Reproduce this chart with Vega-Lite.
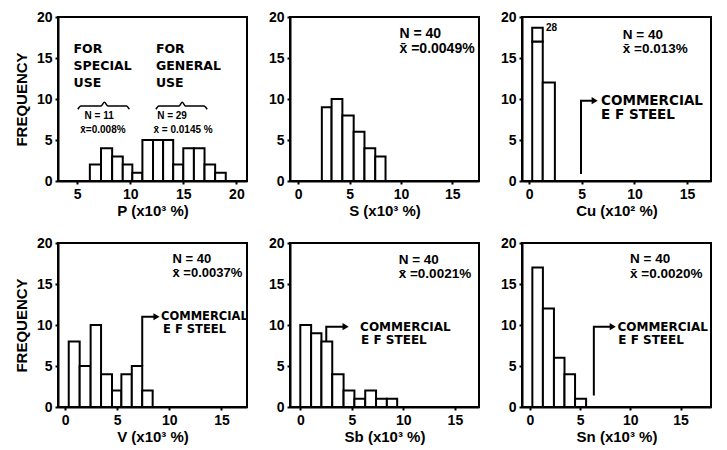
{
  "$schema": "https://vega.github.io/schema/vega-lite/v6.json",
  "background": "white",
  "padding": {"left": 13, "top": 9, "right": 0, "bottom": 0},
  "columns": 3,
  "spacing": {"row": 62, "column": 43},
  "bounds": "flush",
  "config": {
    "view": {"stroke": "black", "strokeWidth": 2},
    "axis": {
      "grid": false, "domainColor": "black", "domainWidth": 2,
      "tickColor": "black", "tickWidth": 2, "tickSize": 3,
      "labelFont": "Liberation Sans", "labelFontSize": 14, "labelFontWeight": "bold", "labelColor": "black", "labelPadding": 3, "labelFlush": false,
      "titleFont": "Liberation Sans", "titleFontSize": 15, "titleFontWeight": "bold", "titleColor": "black", "titlePadding": 2
    },
    "axisY": {"titlePadding": 7},
    "text": {"font": "Liberation Sans", "fontWeight": "bold", "color": "black", "align": "left", "baseline": "middle"}
  },
  "datasets": {
    "P_bars": [
      {"x": 6.2, "x1": 7.25, "y": 2}, {"x": 7.25, "x1": 8.3, "y": 4}, {"x": 8.3, "x1": 9.3, "y": 3},
      {"x": 9.3, "x1": 10.2, "y": 2}, {"x": 10.2, "x1": 11.15, "y": 1}, {"x": 11.15, "x1": 12.15, "y": 5},
      {"x": 12.15, "x1": 13.1, "y": 5}, {"x": 13.1, "x1": 14.05, "y": 5}, {"x": 14.05, "x1": 15, "y": 2},
      {"x": 15, "x1": 16, "y": 4}, {"x": 16, "x1": 17, "y": 4}, {"x": 17, "x1": 18, "y": 2}, {"x": 18, "x1": 19, "y": 1}
    ],
    "P_text": [
      {"x": 4.66, "y": 16.05, "t": "FOR"}, {"x": 4.66, "y": 14.05, "t": "SPECIAL"}, {"x": 4.66, "y": 11.9, "t": "USE"},
      {"x": 12.42, "y": 16.05, "t": "FOR"}, {"x": 12.42, "y": 14.05, "t": "GENERAL"}, {"x": 12.42, "y": 11.9, "t": "USE"}
    ],
    "P_small": [
      {"x": 5.7, "y": 7.9, "t": "N = 11"}, {"x": 5.3, "y": 6.17, "t": "x̄=0.008%"},
      {"x": 12.54, "y": 7.9, "t": "N = 29"}, {"x": 12.19, "y": 6.17, "t": "x̄ = 0.0145 %"}
    ],
    "P_brace": [
      {"id": "a", "o": 0, "x": 5.07, "y": 8.75}, {"id": "a", "o": 1, "x": 5.35, "y": 9.15}, {"id": "a", "o": 2, "x": 7.25, "y": 9.15},
      {"id": "a", "o": 3, "x": 7.57, "y": 9.6}, {"id": "a", "o": 4, "x": 7.9, "y": 9.15}, {"id": "a", "o": 5, "x": 9.65, "y": 9.15},
      {"id": "a", "o": 6, "x": 9.91, "y": 8.75},
      {"id": "b", "o": 0, "x": 12.42, "y": 8.75}, {"id": "b", "o": 1, "x": 12.7, "y": 9.15}, {"id": "b", "o": 2, "x": 14.6, "y": 9.15},
      {"id": "b", "o": 3, "x": 14.9, "y": 9.6}, {"id": "b", "o": 4, "x": 15.2, "y": 9.15}, {"id": "b", "o": 5, "x": 16.95, "y": 9.15},
      {"id": "b", "o": 6, "x": 17.25, "y": 8.75}
    ],
    "S_bars": [
      {"x": 2.3, "x1": 3.25, "y": 9}, {"x": 3.25, "x1": 4.3, "y": 10}, {"x": 4.3, "x1": 5.4, "y": 8},
      {"x": 5.4, "x1": 6.45, "y": 6}, {"x": 6.45, "x1": 7.5, "y": 4}, {"x": 7.5, "x1": 8.5, "y": 3}
    ],
    "S_text": [
      {"x": 9.86, "y": 17.95, "t": "N = 40"}, {"x": 9.86, "y": 16.1, "t": "x̄ =0.0049%"}
    ],
    "Cu_bars": [
      {"x": 0.3, "x1": 1.3, "y": 17}, {"x": 1.3, "x1": 2.45, "y": 12}
    ],
    "Cu_box": [
      {"x": 0.3, "x1": 1.3, "y": 17, "y1": 18.7}
    ],
    "Cu_28": [
      {"x": 1.6, "y": 18.6, "t": "28"}
    ],
    "Cu_arrow": [
      {"o": 0, "x": 4.93, "y": 0.85}, {"o": 1, "x": 4.93, "y": 9.8}, {"o": 2, "x": 6.23, "y": 9.8}
    ],
    "Cu_head": [
      {"x": 6.23, "y": 9.8}
    ],
    "Cu_note": [
      {"x": 6.84, "y": 9.8, "t": "COMMERCIAL"}, {"x": 6.84, "y": 8.05, "t": "E F STEEL"}
    ],
    "Cu_text": [
      {"x": 8.9, "y": 17.85, "t": "N = 40"}, {"x": 8.9, "y": 16.15, "t": "x̄ =0.013%"}
    ],
    "V_bars": [
      {"x": 0.35, "x1": 1.4, "y": 8}, {"x": 1.4, "x1": 2.45, "y": 5}, {"x": 2.45, "x1": 3.45, "y": 10},
      {"x": 3.45, "x1": 4.5, "y": 4}, {"x": 4.5, "x1": 5.4, "y": 2}, {"x": 5.4, "x1": 6.4, "y": 4},
      {"x": 6.4, "x1": 7.4, "y": 5}, {"x": 7.4, "x1": 8.4, "y": 2}
    ],
    "V_arrow": [
      {"o": 0, "x": 7.4, "y": 5}, {"o": 1, "x": 7.4, "y": 11}, {"o": 2, "x": 8.77, "y": 11}
    ],
    "V_head": [
      {"x": 8.77, "y": 11}
    ],
    "V_note": [
      {"x": 9.2, "y": 11, "t": "COMMERCIAL"}, {"x": 9.4, "y": 9.35, "t": "E F STEEL"}
    ],
    "V_text": [
      {"x": 10.3, "y": 18.0, "t": "N = 40"}, {"x": 10.3, "y": 16.3, "t": "x̄ =0.0037%"}
    ],
    "Sb_bars": [
      {"x": 0, "x1": 1.05, "y": 10}, {"x": 1.05, "x1": 2.05, "y": 9}, {"x": 2.05, "x1": 3.1, "y": 8},
      {"x": 3.1, "x1": 4.2, "y": 4}, {"x": 4.2, "x1": 5.25, "y": 2}, {"x": 5.25, "x1": 6.3, "y": 1},
      {"x": 6.3, "x1": 7.35, "y": 2}, {"x": 7.35, "x1": 8.4, "y": 1}, {"x": 8.4, "x1": 9.4, "y": 1}
    ],
    "Sb_arrow": [
      {"o": 0, "x": 2.52, "y": 8}, {"o": 1, "x": 2.52, "y": 9.8}, {"o": 2, "x": 4.4, "y": 9.8}
    ],
    "Sb_head": [
      {"x": 4.4, "y": 9.8}
    ],
    "Sb_note": [
      {"x": 5.8, "y": 9.8, "t": "COMMERCIAL"}, {"x": 5.9, "y": 8.2, "t": "E F STEEL"}
    ],
    "Sb_text": [
      {"x": 9.55, "y": 17.9, "t": "N = 40"}, {"x": 9.55, "y": 16.2, "t": "x̄ =0.0021%"}
    ],
    "Sn_bars": [
      {"x": 0.25, "x1": 1.3, "y": 17}, {"x": 1.3, "x1": 2.4, "y": 12}, {"x": 2.4, "x1": 3.45, "y": 6},
      {"x": 3.45, "x1": 4.5, "y": 4}, {"x": 4.5, "x1": 5.6, "y": 1}
    ],
    "Sn_arrow": [
      {"o": 0, "x": 6.37, "y": 1.4}, {"o": 1, "x": 6.37, "y": 9.8}, {"o": 2, "x": 8.25, "y": 9.8}
    ],
    "Sn_head": [
      {"x": 8.25, "y": 9.8}
    ],
    "Sn_note": [
      {"x": 8.72, "y": 9.8, "t": "COMMERCIAL"}, {"x": 8.8, "y": 8.15, "t": "E F STEEL"}
    ],
    "Sn_text": [
      {"x": 9.97, "y": 18.0, "t": "N = 40"}, {"x": 9.97, "y": 16.25, "t": "x̄ =0.0020%"}
    ]
  },
  "concat": [
    {
      "width": 189, "height": 164,
      "encoding": {
        "x": {"field": "x", "type": "quantitative", "scale": {"domain": [3.2, 21], "nice": false, "zero": false}, "axis": {"values": [5, 10, 15, 20], "title": "P  (x10³ %)"}},
        "y": {"field": "y", "type": "quantitative", "scale": {"domain": [0, 20], "nice": false}, "axis": {"values": [0, 5, 10, 15, 20], "title": "FREQUENCY"}}
      },
      "layer": [
        {"data": {"name": "P_bars"}, "mark": {"type": "rect", "fill": "white", "stroke": "black", "strokeWidth": 2}, "encoding": {"x2": {"field": "x1"}, "y2": {"datum": 0}}},
        {"data": {"name": "P_brace"}, "mark": {"type": "line", "color": "black", "strokeWidth": 1.5, "interpolate": "monotone"}, "encoding": {"detail": {"field": "id"}, "order": {"field": "o"}}},
        {"data": {"name": "P_text"}, "mark": {"type": "text", "font": "DejaVu Sans", "fontSize": 12.5}, "encoding": {"text": {"field": "t"}}},
        {"data": {"name": "P_small"}, "mark": {"type": "text", "fontSize": 10}, "encoding": {"text": {"field": "t"}}}
      ]
    },
    {
      "width": 189, "height": 164,
      "encoding": {
        "x": {"field": "x", "type": "quantitative", "scale": {"domain": [-0.8, 17.6], "nice": false, "zero": false}, "axis": {"values": [0, 5, 10, 15], "title": "S  (x10³ %)"}},
        "y": {"field": "y", "type": "quantitative", "scale": {"domain": [0, 20], "nice": false}, "axis": {"values": [0, 5, 10, 15, 20], "title": null}}
      },
      "layer": [
        {"data": {"name": "S_bars"}, "mark": {"type": "rect", "fill": "white", "stroke": "black", "strokeWidth": 2}, "encoding": {"x2": {"field": "x1"}, "y2": {"datum": 0}}},
        {"data": {"name": "S_text"}, "mark": {"type": "text", "fontSize": 14}, "encoding": {"text": {"field": "t"}}}
      ]
    },
    {
      "width": 189, "height": 164,
      "encoding": {
        "x": {"field": "x", "type": "quantitative", "scale": {"domain": [-0.67, 17.27], "nice": false, "zero": false}, "axis": {"values": [0, 5, 10, 15], "title": "Cu  (x10² %)"}},
        "y": {"field": "y", "type": "quantitative", "scale": {"domain": [0, 20], "nice": false}, "axis": {"values": [0, 5, 10, 15, 20], "title": null}}
      },
      "layer": [
        {"data": {"name": "Cu_bars"}, "mark": {"type": "rect", "fill": "white", "stroke": "black", "strokeWidth": 2}, "encoding": {"x2": {"field": "x1"}, "y2": {"datum": 0}}},
        {"data": {"name": "Cu_box"}, "mark": {"type": "rect", "fill": "white", "stroke": "black", "strokeWidth": 2}, "encoding": {"x2": {"field": "x1"}, "y2": {"field": "y1"}}},
        {"data": {"name": "Cu_28"}, "mark": {"type": "text", "fontSize": 10}, "encoding": {"text": {"field": "t"}}},
        {"data": {"name": "Cu_arrow"}, "mark": {"type": "line", "color": "black", "strokeWidth": 2}, "encoding": {"order": {"field": "o"}}},
        {"data": {"name": "Cu_head"}, "mark": {"type": "point", "shape": "triangle-right", "filled": true, "color": "black", "opacity": 1, "size": 50}, "encoding": {}},
        {"data": {"name": "Cu_note"}, "mark": {"type": "text", "font": "DejaVu Sans", "fontSize": 13.5}, "encoding": {"text": {"field": "t"}}},
        {"data": {"name": "Cu_text"}, "mark": {"type": "text", "fontSize": 13.5}, "encoding": {"text": {"field": "t"}}}
      ]
    },
    {
      "width": 189, "height": 164,
      "encoding": {
        "x": {"field": "x", "type": "quantitative", "scale": {"domain": [-0.68, 17.45], "nice": false, "zero": false}, "axis": {"values": [0, 5, 10, 15], "title": "V  (x10³ %)"}},
        "y": {"field": "y", "type": "quantitative", "scale": {"domain": [0, 20], "nice": false}, "axis": {"values": [0, 5, 10, 15, 20], "title": "FREQUENCY"}}
      },
      "layer": [
        {"data": {"name": "V_bars"}, "mark": {"type": "rect", "fill": "white", "stroke": "black", "strokeWidth": 2}, "encoding": {"x2": {"field": "x1"}, "y2": {"datum": 0}}},
        {"data": {"name": "V_arrow"}, "mark": {"type": "line", "color": "black", "strokeWidth": 2}, "encoding": {"order": {"field": "o"}}},
        {"data": {"name": "V_head"}, "mark": {"type": "point", "shape": "triangle-right", "filled": true, "color": "black", "opacity": 1, "size": 50}, "encoding": {}},
        {"data": {"name": "V_note"}, "mark": {"type": "text", "font": "DejaVu Sans", "fontSize": 11.5}, "encoding": {"text": {"field": "t"}}},
        {"data": {"name": "V_text"}, "mark": {"type": "text", "fontSize": 13}, "encoding": {"text": {"field": "t"}}}
      ]
    },
    {
      "width": 189, "height": 164,
      "encoding": {
        "x": {"field": "x", "type": "quantitative", "scale": {"domain": [-1.0, 17.34], "nice": false, "zero": false}, "axis": {"values": [0, 5, 10, 15], "title": "Sb  (x10³ %)"}},
        "y": {"field": "y", "type": "quantitative", "scale": {"domain": [0, 20], "nice": false}, "axis": {"values": [0, 5, 10, 15, 20], "title": null}}
      },
      "layer": [
        {"data": {"name": "Sb_bars"}, "mark": {"type": "rect", "fill": "white", "stroke": "black", "strokeWidth": 2}, "encoding": {"x2": {"field": "x1"}, "y2": {"datum": 0}}},
        {"data": {"name": "Sb_arrow"}, "mark": {"type": "line", "color": "black", "strokeWidth": 2}, "encoding": {"order": {"field": "o"}}},
        {"data": {"name": "Sb_head"}, "mark": {"type": "point", "shape": "triangle-right", "filled": true, "color": "black", "opacity": 1, "size": 50}, "encoding": {}},
        {"data": {"name": "Sb_note"}, "mark": {"type": "text", "font": "DejaVu Sans", "fontSize": 12}, "encoding": {"text": {"field": "t"}}},
        {"data": {"name": "Sb_text"}, "mark": {"type": "text", "fontSize": 13.5}, "encoding": {"text": {"field": "t"}}}
      ]
    },
    {
      "width": 189, "height": 164,
      "encoding": {
        "x": {"field": "x", "type": "quantitative", "scale": {"domain": [-0.78, 18.03], "nice": false, "zero": false}, "axis": {"values": [0, 5, 10, 15], "title": "Sn  (x10³ %)"}},
        "y": {"field": "y", "type": "quantitative", "scale": {"domain": [0, 20], "nice": false}, "axis": {"values": [0, 5, 10, 15, 20], "title": null}}
      },
      "layer": [
        {"data": {"name": "Sn_bars"}, "mark": {"type": "rect", "fill": "white", "stroke": "black", "strokeWidth": 2}, "encoding": {"x2": {"field": "x1"}, "y2": {"datum": 0}}},
        {"data": {"name": "Sn_arrow"}, "mark": {"type": "line", "color": "black", "strokeWidth": 2}, "encoding": {"order": {"field": "o"}}},
        {"data": {"name": "Sn_head"}, "mark": {"type": "point", "shape": "triangle-right", "filled": true, "color": "black", "opacity": 1, "size": 50}, "encoding": {}},
        {"data": {"name": "Sn_note"}, "mark": {"type": "text", "font": "DejaVu Sans", "fontSize": 12}, "encoding": {"text": {"field": "t"}}},
        {"data": {"name": "Sn_text"}, "mark": {"type": "text", "fontSize": 13.5}, "encoding": {"text": {"field": "t"}}}
      ]
    }
  ]
}
